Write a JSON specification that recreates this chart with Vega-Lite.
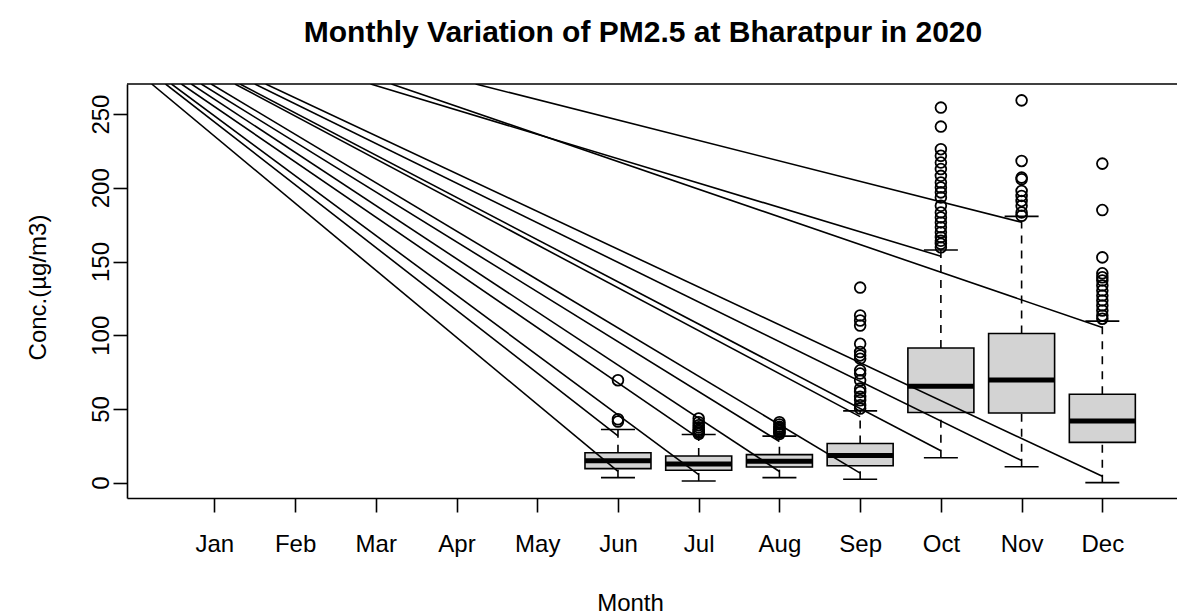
{
  "$schema": "https://vega.github.io/schema/vega-lite/v6.json",
  "width": 1050,
  "height": 414,
  "autosize": {"type": "none"},
  "padding": {"left": 127, "top": 84, "right": 0, "bottom": 117},
  "background": "white",
  "title": {"text": "Monthly Variation of PM2.5 at Bharatpur in 2020", "font": "Liberation Sans", "fontSize": 30, "fontWeight": "bold", "color": "black", "anchor": "middle", "frame": "group", "baseline": "alphabetic", "offset": 11, "dx": -9},
  "datasets": {
    "boxes": [
      {"month": 6, "lo": 3.4, "q1": 9.5, "med": 14.9, "q3": 20.3, "hi": 36.1},
      {"month": 7, "lo": 1.1, "q1": 8.4, "med": 12.6, "q3": 18.1, "hi": 32.7},
      {"month": 8, "lo": 3.4, "q1": 10.6, "med": 14.5, "q3": 19.0, "hi": 31.6},
      {"month": 9, "lo": 2.3, "q1": 11.5, "med": 18.5, "q3": 26.6, "hi": 48.7},
      {"month": 10, "lo": 16.9, "q1": 47.6, "med": 65.4, "q3": 91.3, "hi": 157.8},
      {"month": 11, "lo": 10.8, "q1": 47.3, "med": 69.6, "q3": 101.2, "hi": 180.6},
      {"month": 12, "lo": 0, "q1": 27.3, "med": 41.9, "q3": 60, "hi": 109.6}
    ],
    "outliers": [
      {"month": 6, "conc": 41.5}, {"month": 6, "conc": 43}, {"month": 6, "conc": 69.5},
      {"month": 7, "conc": 33}, {"month": 7, "conc": 34}, {"month": 7, "conc": 35}, {"month": 7, "conc": 36}, {"month": 7, "conc": 37.5}, {"month": 7, "conc": 39}, {"month": 7, "conc": 41}, {"month": 7, "conc": 43.5},
      {"month": 8, "conc": 33}, {"month": 8, "conc": 34}, {"month": 8, "conc": 35}, {"month": 8, "conc": 36}, {"month": 8, "conc": 37}, {"month": 8, "conc": 38}, {"month": 8, "conc": 39.5}, {"month": 8, "conc": 41},
      {"month": 9, "conc": 50.3}, {"month": 9, "conc": 52.5}, {"month": 9, "conc": 55.9}, {"month": 9, "conc": 58.2}, {"month": 9, "conc": 61.5}, {"month": 9, "conc": 63.8}, {"month": 9, "conc": 69.4}, {"month": 9, "conc": 74}, {"month": 9, "conc": 76.2}, {"month": 9, "conc": 84.1}, {"month": 9, "conc": 86.3}, {"month": 9, "conc": 88.6}, {"month": 9, "conc": 94.2}, {"month": 9, "conc": 106.6}, {"month": 9, "conc": 110}, {"month": 9, "conc": 113.4}, {"month": 9, "conc": 132.3},
      {"month": 10, "conc": 159.6}, {"month": 10, "conc": 162}, {"month": 10, "conc": 164.1}, {"month": 10, "conc": 166.5}, {"month": 10, "conc": 169.8}, {"month": 10, "conc": 173.2}, {"month": 10, "conc": 176.5}, {"month": 10, "conc": 179.9}, {"month": 10, "conc": 183.3}, {"month": 10, "conc": 187.8}, {"month": 10, "conc": 193.5}, {"month": 10, "conc": 196.9}, {"month": 10, "conc": 200.2}, {"month": 10, "conc": 203.6}, {"month": 10, "conc": 208.1}, {"month": 10, "conc": 212.7}, {"month": 10, "conc": 217.1}, {"month": 10, "conc": 221.7}, {"month": 10, "conc": 226.2}, {"month": 10, "conc": 241.5}, {"month": 10, "conc": 254.4},
      {"month": 11, "conc": 181}, {"month": 11, "conc": 183.3}, {"month": 11, "conc": 187.8}, {"month": 11, "conc": 191.1}, {"month": 11, "conc": 194.5}, {"month": 11, "conc": 197.9}, {"month": 11, "conc": 205.8}, {"month": 11, "conc": 206.9}, {"month": 11, "conc": 218.2}, {"month": 11, "conc": 259.3},
      {"month": 12, "conc": 111.2}, {"month": 12, "conc": 113.4}, {"month": 12, "conc": 116.8}, {"month": 12, "conc": 120.2}, {"month": 12, "conc": 123.6}, {"month": 12, "conc": 126.9}, {"month": 12, "conc": 130.3}, {"month": 12, "conc": 133.7}, {"month": 12, "conc": 137.1}, {"month": 12, "conc": 139.3}, {"month": 12, "conc": 142}, {"month": 12, "conc": 152.8}, {"month": 12, "conc": 184.9}, {"month": 12, "conc": 216.4}
    ],
    "lines": [
      {"x1": 0.224, "y1": 270.4, "x2": 6, "y2": 7.6},
      {"x1": 0.396, "y1": 270.4, "x2": 6, "y2": 31.8},
      {"x1": 0.469, "y1": 270.4, "x2": 7, "y2": 5.4},
      {"x1": 0.592, "y1": 270.4, "x2": 7, "y2": 30.2},
      {"x1": 0.715, "y1": 270.4, "x2": 8, "y2": 7.6},
      {"x1": 0.838, "y1": 270.4, "x2": 8, "y2": 27.9},
      {"x1": 0.961, "y1": 270.4, "x2": 9, "y2": 6.5},
      {"x1": 1.255, "y1": 270.4, "x2": 9, "y2": 44.8},
      {"x1": 1.317, "y1": 270.4, "x2": 10, "y2": 21.6},
      {"x1": 1.501, "y1": 270.4, "x2": 11, "y2": 15},
      {"x1": 1.636, "y1": 270.4, "x2": 12, "y2": 4.3},
      {"x1": 2.936, "y1": 270.4, "x2": 10, "y2": 153.6},
      {"x1": 3.194, "y1": 270.4, "x2": 12, "y2": 105.2},
      {"x1": 4.237, "y1": 270.4, "x2": 11, "y2": 176.6}
    ]
  },
  "layer": [
    {
      "data": {"name": "boxes"},
      "mark": {"type": "rule", "color": "black", "strokeWidth": 1.6, "strokeDash": [8, 7]},
      "encoding": {
        "x": {"field": "month", "type": "quantitative", "scale": {"domain": [-0.02, 12.863], "nice": false, "zero": false},
              "title": "Month",
              "axis": {"values": [1,2,3,4,5,6,7,8,9,10,11,12], "labelExpr": "['Jan','Feb','Mar','Apr','May','Jun','Jul','Aug','Sep','Oct','Nov','Dec'][datum.value - 1]"}},
        "y": {"field": "q3", "type": "quantitative", "scale": {"domain": [-10.4, 270.4], "nice": false, "zero": false},
              "title": "Conc.(µg/m3)",
              "axis": {"values": [0, 50, 100, 150, 200, 250]}},
        "y2": {"field": "hi"}
      }
    },
    {
      "data": {"name": "boxes"},
      "mark": {"type": "rule", "color": "black", "strokeWidth": 1.6, "strokeDash": [8, 7]},
      "encoding": {
        "x": {"field": "month", "type": "quantitative", "title": "Month"},
        "y": {"field": "lo", "type": "quantitative", "title": "Conc.(µg/m3)"},
        "y2": {"field": "q1"}
      }
    },
    {
      "data": {"name": "boxes"},
      "mark": {"type": "tick", "orient": "horizontal", "color": "black", "size": 34, "thickness": 1.6, "opacity": 1},
      "encoding": {
        "x": {"field": "month", "type": "quantitative", "title": "Month"},
        "y": {"field": "hi", "type": "quantitative", "title": "Conc.(µg/m3)"}
      }
    },
    {
      "data": {"name": "boxes"},
      "mark": {"type": "tick", "orient": "horizontal", "color": "black", "size": 34, "thickness": 1.6, "opacity": 1},
      "encoding": {
        "x": {"field": "month", "type": "quantitative", "title": "Month"},
        "y": {"field": "lo", "type": "quantitative", "title": "Conc.(µg/m3)"}
      }
    },
    {
      "data": {"name": "boxes"},
      "mark": {"type": "bar", "width": 66, "fill": "#D3D3D3", "stroke": "black", "strokeWidth": 1.6},
      "encoding": {
        "x": {"field": "month", "type": "quantitative", "title": "Month"},
        "y": {"field": "q1", "type": "quantitative", "title": "Conc.(µg/m3)"},
        "y2": {"field": "q3"}
      }
    },
    {
      "data": {"name": "boxes"},
      "mark": {"type": "tick", "orient": "horizontal", "color": "black", "size": 66, "thickness": 5, "opacity": 1},
      "encoding": {
        "x": {"field": "month", "type": "quantitative", "title": "Month"},
        "y": {"field": "med", "type": "quantitative", "title": "Conc.(µg/m3)"}
      }
    },
    {
      "data": {"name": "outliers"},
      "mark": {"type": "point", "shape": "circle", "filled": false, "stroke": "black", "strokeWidth": 1.8, "size": 115, "opacity": 1},
      "encoding": {
        "x": {"field": "month", "type": "quantitative", "title": "Month"},
        "y": {"field": "conc", "type": "quantitative", "title": "Conc.(µg/m3)"}
      }
    },
    {
      "data": {"name": "lines"},
      "mark": {"type": "rule", "color": "black", "strokeWidth": 1.6, "clip": true},
      "encoding": {
        "x": {"field": "x1", "type": "quantitative", "title": "Month"},
        "y": {"field": "y1", "type": "quantitative", "title": "Conc.(µg/m3)"},
        "x2": {"field": "x2"},
        "y2": {"field": "y2"}
      }
    },
    {
      "data": {"values": [{"top": 270.4}]},
      "mark": {"type": "rule", "color": "black", "strokeWidth": 1.6},
      "encoding": {
        "y": {"field": "top", "type": "quantitative", "title": "Conc.(µg/m3)"}
      }
    }
  ],
  "config": {
    "view": {"stroke": null},
    "font": "Liberation Sans",
    "axis": {
      "grid": false,
      "domainColor": "black",
      "domainWidth": 1.6,
      "tickColor": "black",
      "tickWidth": 1.6,
      "tickSize": 14,
      "labelFont": "Liberation Sans",
      "labelFontSize": 24,
      "labelColor": "black",
      "labelOverlap": false,
      "labelFlush": false,
      "titleFont": "Liberation Sans",
      "titleFontSize": 24,
      "titleFontWeight": "normal",
      "titleColor": "black"
    },
    "axisX": {
      "labelPadding": 20,
      "labelBaseline": "top",
      "labelAlign": "center",
      "titleAlign": "center",
      "titleBaseline": "alphabetic",
      "titleX": 503,
      "titleY": 112
    },
    "axisY": {
      "labelAngle": 270,
      "labelAlign": "center",
      "labelBaseline": "alphabetic",
      "labelPadding": 5,
      "titleAngle": 270,
      "titleAlign": "center",
      "titleBaseline": "alphabetic",
      "titleX": -82,
      "titleY": 203
    }
  }
}
